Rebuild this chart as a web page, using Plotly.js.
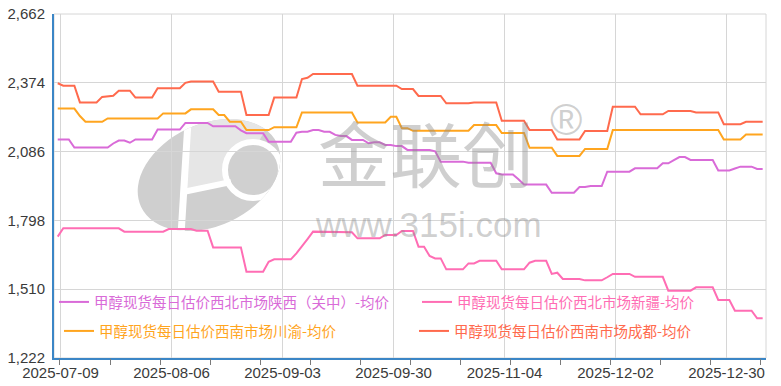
<!DOCTYPE html>
<html>
<head>
<meta charset="utf-8">
<script src="https://cdn.plot.ly/plotly-3.0.1.min.js"></script>
<style>
  html, body { margin: 0; padding: 0; background: #ffffff; }
  #chart { width: 781px; height: 386px; }
</style>
</head>
<body>
<div id="chart"></div>
<script>
// ---- data (daily points) ----
const seriesNames = [
  '甲醇现货每日估价西北市场陕西（关中）-均价',
  '甲醇现货每日估价西北市场新疆-均价',
  '甲醇现货每日估价西南市场川渝-均价',
  '甲醇现货每日估价西南市场成都-均价'
];

const shaanxi = [
  2137,2137,2137,2103,2103,2103,2103,2103,2103,2103,
  2120,2132,2132,2123,2137,2137,2137,2137,2178,2178,
  2178,2178,2178,2206,2206,2206,2206,2206,2192,2192,
  2192,2192,2192,2175,2163,2163,2163,2163,2127,2127,
  2127,2127,2127,2165,2169,2169,2176,2176,2169,2169,
  2156,2151,2151,2135,2135,2135,2121,2125,2125,2114,
  2114,2109,2109,2093,2093,2093,2093,2093,2087,2044,
  2044,2044,2044,2044,2039,2039,2039,2039,2039,1995,
  1990,1990,1990,1970,1948,1948,1948,1948,1948,1914,
  1914,1914,1914,1914,1938,1938,1942,1942,1942,2002,
  2002,2002,2002,2002,2016,2016,2016,2016,2016,2037,
  2037,2050,2063,2063,2051,2051,2051,2051,2051,2007,
  2007,2007,2015,2023,2023,2023,2013,2013
];

const xinjiang = [
  1730,1765,1765,1765,1765,1765,1765,1765,1765,1765,
  1765,1765,1751,1751,1751,1751,1751,1751,1751,1751,
  1762,1762,1762,1762,1762,1755,1755,1755,1685,1685,
  1685,1685,1685,1685,1583,1583,1583,1583,1625,1635,
  1635,1635,1635,1660,1688,1720,1751,1751,1751,1748,
  1748,1748,1748,1748,1723,1723,1723,1723,1723,1737,
  1737,1737,1754,1754,1754,1688,1688,1649,1639,1639,
  1593,1593,1593,1593,1618,1618,1629,1629,1629,1629,
  1593,1593,1593,1593,1593,1621,1629,1629,1629,1574,
  1579,1553,1553,1553,1553,1547,1547,1547,1547,1560,
  1574,1574,1574,1574,1562,1562,1562,1562,1562,1562,
  1504,1504,1504,1504,1504,1518,1518,1518,1518,1465,
  1465,1465,1420,1420,1420,1420,1388,1388
];

const chuanyu = [
  2266,2266,2266,2266,2235,2211,2211,2211,2211,2225,
  2225,2225,2225,2225,2225,2225,2225,2225,2225,2246,
  2246,2246,2246,2246,2263,2263,2263,2263,2263,2239,
  2239,2211,2211,2211,2176,2176,2176,2176,2176,2188,
  2188,2188,2188,2188,2250,2250,2250,2250,2250,2250,
  2250,2250,2250,2250,2208,2208,2208,2208,2208,2208,
  2232,2232,2184,2184,2173,2173,2173,2173,2173,2173,
  2173,2173,2173,2173,2173,2197,2197,2197,2197,2197,
  2164,2164,2164,2164,2164,2102,2102,2102,2102,2102,
  2068,2068,2068,2068,2068,2097,2097,2097,2097,2097,
  2176,2176,2176,2176,2176,2176,2176,2176,2176,2176,
  2176,2176,2176,2176,2176,2176,2176,2176,2176,2176,
  2137,2137,2137,2137,2158,2158,2158,2158
];

const chengdu = [
  2372,2362,2362,2362,2292,2292,2292,2292,2315,2318,
  2320,2341,2341,2341,2312,2312,2312,2312,2351,2351,
  2351,2351,2351,2374,2379,2379,2379,2379,2379,2337,
  2337,2337,2337,2337,2239,2239,2239,2239,2239,2312,
  2312,2312,2312,2312,2390,2395,2411,2411,2411,2411,
  2411,2411,2411,2411,2362,2362,2362,2362,2362,2362,
  2362,2362,2348,2348,2348,2319,2319,2319,2319,2319,
  2288,2288,2288,2288,2288,2292,2292,2292,2292,2292,
  2215,2215,2215,2215,2215,2176,2176,2176,2176,2176,
  2137,2137,2137,2137,2137,2172,2172,2172,2172,2172,
  2274,2274,2274,2274,2274,2242,2242,2242,2242,2242,
  2256,2256,2256,2256,2256,2250,2250,2250,2250,2250,
  2201,2201,2201,2201,2211,2211,2211,2211
];

const dateLabels = ['2025-07-09','2025-08-06','2025-09-03','2025-09-30','2025-11-04','2025-12-02','2025-12-30'];
const dateLabelIndex = [0.5, 20.5, 40.5, 60.5, 80.5, 100.5, 120.5];
const yTickValues = [1222, 1510, 1798, 2086, 2374, 2662];

const colors = ['#d96bd8', '#ff6db4', '#ffa51f', '#ff6a4d'];

// ---- layout helpers ----
const W = 781, H = 386;
const M = {l: 54, r: 15, t: 14, b: 28};
const PW = W - M.l - M.r, PH = H - M.t - M.b;
const px = x => (x - M.l) / PW;
const py = y => (H - M.b - y) / PH;

function named(i) {
  return '<span style="color:' + colors[i] + '">' + seriesNames[i] + '</span>';
}

const seriesData = [shaanxi, xinjiang, chuanyu, chengdu];
const legendOf = ['legend', 'legend', 'legend2', 'legend2'];
const legendWidths = [318, 250, 310, 250];

const traces = seriesData.map((vals, i) => ({
  type: 'scatter',
  mode: 'lines',
  y: vals,
  x0: 0,
  dx: 1,
  name: named(i),
  legend: legendOf[i],
  legendwidth: legendWidths[i],
  line: {color: colors[i], width: 2},
  hoverinfo: 'skip'
}));

// empty trace to host the minor tick axis
traces.push({type: 'scatter', x: [], y: [], xaxis: 'x2', yaxis: 'y', showlegend: false, hoverinfo: 'skip'});

// logo watermark (decorative)
const logoSvg =
  '<svg xmlns="http://www.w3.org/2000/svg" width="150" height="123" viewBox="0 0 150 123" preserveAspectRatio="none">' +
  '<defs><clipPath id="c"><ellipse cx="74" cy="63" rx="75" ry="51" transform="rotate(-25 74 63)"/></clipPath></defs>' +
  '<g clip-path="url(#c)">' +
  '<rect x="0" y="0" width="150" height="123" fill="#cfcfcf"/>' +
  '<polygon points="52,0 140,0 118,40 98,72 50,78" fill="#e6e6e6"/>' +
  '<circle cx="118" cy="58" r="28" fill="#d0d0d0" stroke="#ffffff" stroke-width="6"/>' +
  '<line x1="53" y1="10" x2="46" y2="123" stroke="#ffffff" stroke-width="7"/>' +
  '<line x1="48" y1="80" x2="96" y2="70" stroke="#ffffff" stroke-width="6"/>' +
  '</g></svg>';

const wmColor = 'rgba(140,140,140,0.42)';

const layout = {
  width: W,
  height: H,
  margin: M,
  paper_bgcolor: '#ffffff',
  plot_bgcolor: 'rgba(0,0,0,0)',
  font: {family: 'Arial, "Liberation Sans", sans-serif', size: 15, color: '#3a3a3a'},
  showlegend: true,
  xaxis: {
    range: [-0.67, 127.6],
    tickmode: 'array',
    tickvals: dateLabelIndex,
    ticktext: dateLabels,
    ticks: '',
    showgrid: true,
    gridcolor: '#d6d6d6',
    gridwidth: 1,
    zeroline: false,
    showline: true,
    linecolor: '#3b86c6',
    linewidth: 2,
    tickfont: {size: 15, color: '#3a3a3a'},
    fixedrange: true
  },
  xaxis2: {
    overlaying: 'x',
    anchor: 'y',
    side: 'bottom',
    range: [-0.67, 127.6],
    tickmode: 'linear',
    tick0: 0.41,
    dtick: 9.02,
    ticks: 'outside',
    ticklen: 6,
    tickwidth: 1,
    tickcolor: '#7a7a7a',
    showticklabels: false,
    showgrid: false,
    zeroline: false,
    showline: false,
    fixedrange: true
  },
  yaxis: {
    range: [1222, 2662],
    tickmode: 'array',
    tickvals: yTickValues,
    tickformat: ',d',
    ticks: '',
    showgrid: true,
    gridcolor: '#d6d6d6',
    gridwidth: 1,
    zeroline: false,
    showline: true,
    linecolor: '#3b86c6',
    linewidth: 2,
    tickfont: {size: 15, color: '#3a3a3a'},
    ticklabelstandoff: 4,
    fixedrange: true
  },
  legend: {
    orientation: 'h',
    x: 0, xanchor: 'left',
    y: py(302), yanchor: 'middle',
    bgcolor: 'rgba(0,0,0,0)',
    borderwidth: 0,
    entrywidth: 318,
    entrywidthmode: 'pixels',
    font: {family: '"Noto Sans CJK SC", sans-serif', size: 14.5}
  },
  legend2: {
    orientation: 'h',
    x: px(59), xanchor: 'left',
    y: py(331), yanchor: 'middle',
    bgcolor: 'rgba(0,0,0,0)',
    borderwidth: 0,
    entrywidth: 310,
    entrywidthmode: 'pixels',
    font: {family: '"Noto Sans CJK SC", sans-serif', size: 14.5}
  },
  shapes: [
    {type: 'rect', xref: 'paper', yref: 'paper', x0: 0, x1: 1, y0: 0, y1: 1,
     line: {color: '#d6d6d6', width: 1}, fillcolor: 'rgba(0,0,0,0)', layer: 'below'}
  ],
  images: [
    {source: 'data:image/svg+xml;charset=utf-8,' + encodeURIComponent(logoSvg),
     xref: 'paper', yref: 'paper', x: px(135), y: py(112), sizex: 150 / PW, sizey: 123 / PH,
     xanchor: 'left', yanchor: 'top', sizing: 'stretch', layer: 'below', opacity: 1}
  ],
  annotations: [
    {text: '金联创', xref: 'paper', yref: 'paper', x: px(426), y: py(150), xanchor: 'center', yanchor: 'middle',
     showarrow: false, font: {family: '"Noto Sans CJK SC", sans-serif', size: 72, color: wmColor}},
    {text: 'www.315i.com', xref: 'paper', yref: 'paper', x: px(428), y: py(224), xanchor: 'center', yanchor: 'middle',
     showarrow: false, font: {family: 'Arial, "Liberation Sans", sans-serif', size: 35, color: wmColor}},
    {text: '®', xref: 'paper', yref: 'paper', x: px(566), y: py(119), xanchor: 'center', yanchor: 'middle',
     showarrow: false, font: {family: 'Arial, "Liberation Sans", sans-serif', size: 44, color: wmColor}}
  ]
};

Plotly.newPlot('chart', traces, layout, {staticPlot: true, displayModeBar: false});
</script>
</body>
</html>
